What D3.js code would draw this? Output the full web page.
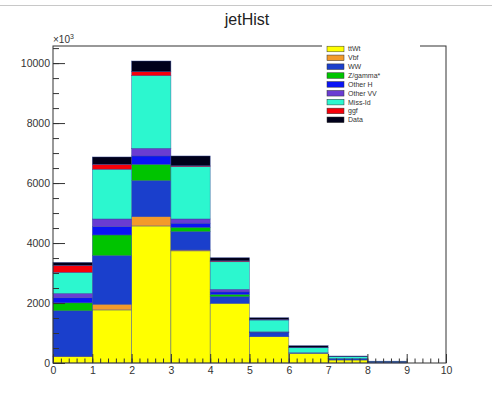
<!DOCTYPE html>
<html>
<head>
<meta charset="utf-8">
<script src="https://cdn.jsdelivr.net/npm/d3@7"></script>
<style>
  html, body { margin: 0; padding: 0; background: #fff; }
  svg { display: block; font-family: "Liberation Sans", Arial, sans-serif; }
</style>
</head>
<body>
<svg id="chart" width="492" height="396"></svg>
<script>
// Jet multiplicity bins (lower edges), one entry per bin 0..9
const binEdges = [0, 1, 2, 3, 4, 5, 6, 7, 8, 9];

// Stacked contributions per bin, bottom to top
const seriesNames = ["ttWt", "Vbf", "WW", "Z/gamma*", "Other H", "Other VV", "Miss-Id", "ggf", "Data"];
const ttWt    = [210, 1770, 4570, 3740, 1990, 877, 323, 100, 0, 0];
const vbf     = [20, 190, 310, 30, 0, 0, 0, 0, 0, 0];
const ww      = [1510, 1620, 1200, 610, 220, 133, 20, 40, 30, 0];
const zgamma  = [267, 690, 546, 146, 80, 10, 0, 10, 0, 0];
const otherH  = [167, 276, 277, 134, 77, 10, 0, 0, 0, 0];
const otherVV = [146, 257, 256, 143, 90, 10, 0, 0, 0, 0];
const missId  = [700, 1657, 2421, 1743, 920, 393, 167, 60, 20, 0];
const ggf     = [234, 166, 133, 30, 30, 20, 10, 0, 0, 0];
const data    = [100, 244, 357, 327, 103, 57, 57, 23, 10, 0];
const seriesColors = ["#ffff00", "#f39a2b", "#1a3fcc", "#00c400", "#0a14f5", "#6a3cd2", "#2cf7cf", "#f5000a", "#00001a"];

const yTicks = [0, 2000, 4000, 6000, 8000, 10000];
const xTicks = [0, 1, 2, 3, 4, 5, 6, 7, 8, 9, 10];

const svg = d3.select("#chart");
const frame = { left: 53, right: 446, top: 46, bottom: 363 };

const x = d3.scaleLinear().domain([0, 10]).range([frame.left, frame.right]);
const y = d3.scaleLinear().domain([0, 10570]).range([frame.bottom, frame.top]);

// Thin canvas border at the top
svg.append("line").attr("x1", 0).attr("x2", 492).attr("y1", 5.5).attr("y2", 5.5)
  .attr("stroke", "#c8c8c8").attr("stroke-width", 1);

// Title
svg.append("text").attr("x", 247).attr("y", 25).attr("text-anchor", "middle")
  .attr("font-size", 16).attr("fill", "#222").text("jetHist");

// Build the stack
const rows = binEdges.map((b, i) => {
  const r = { bin: b };
  const vals = [ttWt, vbf, ww, zgamma, otherH, otherVV, missId, ggf, data];
  seriesNames.forEach((n, k) => { r[n] = vals[k][i]; });
  return r;
});
const stacked = d3.stack().keys(seriesNames)(rows);

const g = svg.append("g");
stacked.forEach((layer, k) => {
  g.selectAll(null).data(layer.filter(d => d[1] - d[0] > 0)).enter().append("rect")
    .attr("x", d => x(d.data.bin))
    .attr("width", d => x(d.data.bin + 1) - x(d.data.bin))
    .attr("y", d => y(d[1]))
    .attr("height", d => y(d[0]) - y(d[1]))
    .attr("fill", seriesColors[k])
    .attr("stroke", "#34489a")
    .attr("stroke-width", 0.6)
    .attr("stroke-opacity", 0.7);
});

// Frame
svg.append("rect").attr("x", frame.left).attr("y", frame.top)
  .attr("width", frame.right - frame.left).attr("height", frame.bottom - frame.top)
  .attr("fill", "none").attr("stroke", "#333").attr("stroke-width", 1);

// Axes with inward ticks
const axisStyle = sel => {
  sel.select(".domain").remove();
  sel.selectAll("line").attr("stroke", "#333");
  sel.selectAll("text").attr("fill", "#333").attr("font-size", 10.5)
    .attr("font-family", "Liberation Sans, Arial, sans-serif");
};

svg.append("g").attr("transform", `translate(${frame.left},0)`)
  .call(d3.axisLeft(y).tickValues(d3.range(0, 10570, 500)).tickSize(-6).tickFormat(""))
  .call(axisStyle);
svg.append("g").attr("transform", `translate(${frame.left},0)`)
  .call(d3.axisLeft(y).tickValues(yTicks).tickSize(-12).tickPadding(3).tickFormat(d3.format("d")))
  .call(axisStyle);

svg.append("g").attr("transform", `translate(0,${frame.bottom})`)
  .call(d3.axisBottom(x).tickValues(d3.range(0, 10.01, 0.2)).tickSize(-4.5).tickFormat(""))
  .call(axisStyle);
svg.append("g").attr("transform", `translate(0,${frame.bottom})`)
  .call(d3.axisBottom(x).tickValues(xTicks).tickSize(-9).tickPadding(4).tickFormat(d3.format("d")))
  .call(axisStyle);

// Exponent label
const ex = svg.append("text").attr("x", frame.left).attr("y", 43).attr("font-size", 10).attr("fill", "#333");
ex.append("tspan").text("\u00d710");
ex.append("tspan").attr("font-size", 7).attr("dy", -4).text("3");

// Legend
const lg = svg.append("g");
lg.append("rect").attr("x", 322).attr("y", 41).attr("width", 98).attr("height", 86).attr("fill", "#fff");
seriesNames.forEach((n, k) => {
  const yy = 49 + k * 8.85;
  lg.append("rect").attr("x", 327).attr("y", yy - 2.8).attr("width", 17).attr("height", 5.6)
    .attr("fill", seriesColors[k]).attr("stroke", "#333").attr("stroke-width", 0.5);
  lg.append("text").attr("x", 348).attr("y", yy + 2.4).attr("font-size", 7).attr("fill", "#333").text(n);
});
</script>
</body>
</html>
